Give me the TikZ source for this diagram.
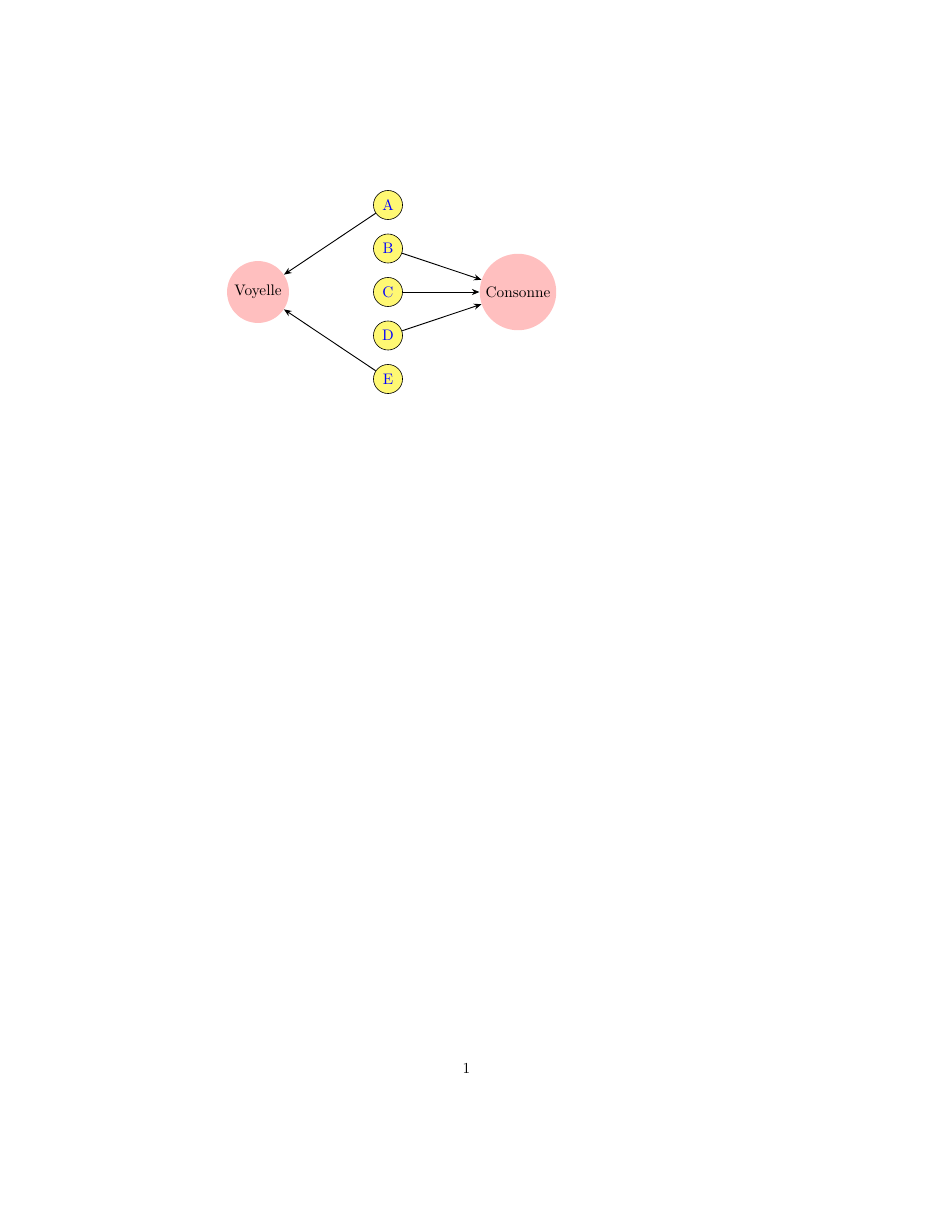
\documentclass[tikz,border=0pt]{standalone}
\usetikzlibrary{arrows.meta}
\begin{document}
\begin{tikzpicture}[x=0.6545pt,y=-0.6545pt,
  letter/.style={circle,draw=black,fill=yellow!55,text=blue,minimum size=19pt,inner sep=1pt},
  group/.style={circle,fill=red!25,text=black,inner sep=3pt},
  link/.style={-{Stealth[length=5pt,width=4pt]},semithick}]
\useasboundingbox (0,0) rectangle (935,1210);
\node[letter] (A) at (388,205) {A};
\node[letter] (B) at (388,248.5) {B};
\node[letter] (C) at (388,292) {C};
\node[letter] (D) at (388,335.5) {D};
\node[letter] (E) at (388,379) {E};
\node[group, minimum size=40.5pt] (V) at (258,292) {Voyelle};
\node[group, minimum size=49.5pt] (K) at (518,292) {Consonne};
\node (pg) at (466.5,1068) {1};
\draw[link] (A) -- (V);
\draw[link] (E) -- (V);
\draw[link] (B) -- (K);
\draw[link] (C) -- (K);
\draw[link] (D) -- (K);
\end{tikzpicture}
\end{document}
